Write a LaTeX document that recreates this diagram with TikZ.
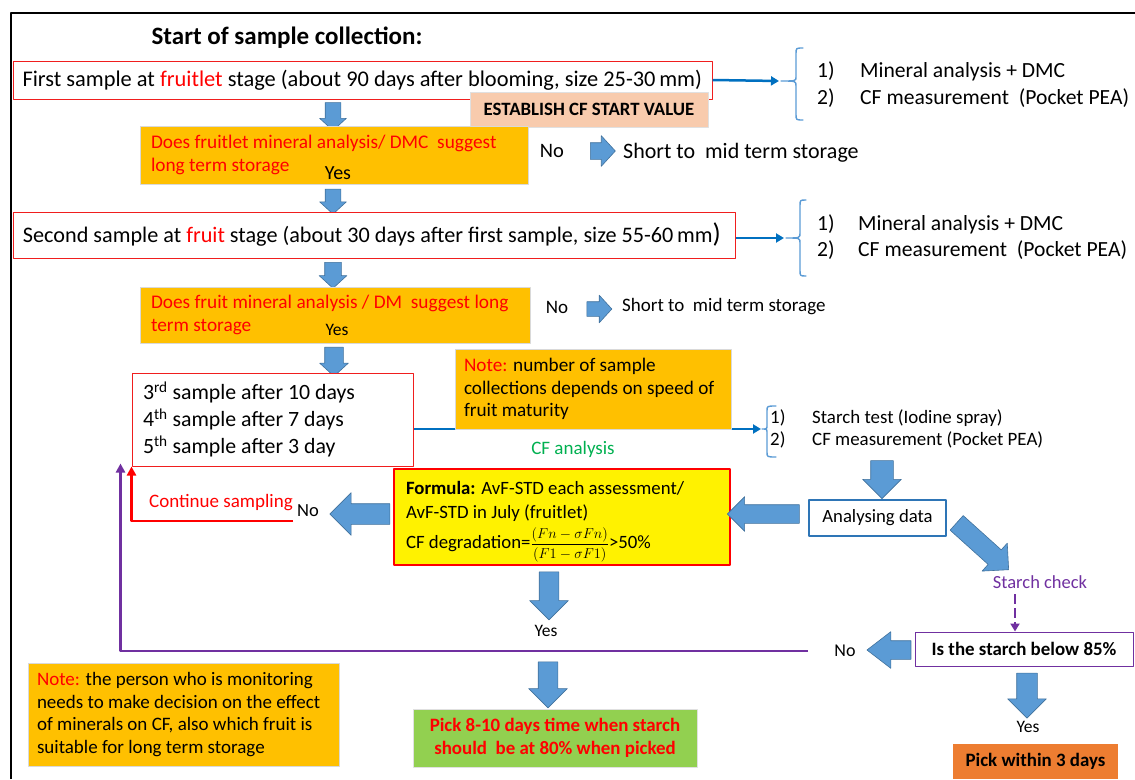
\documentclass[tikz,border=0pt]{standalone}
\usepackage{amsmath}
\usepackage{fontspec}
\setmainfont{Carlito}
\usepackage{tikz}
\usepackage{xcolor}
\usetikzlibrary{arrows.meta,positioning,shapes.arrows}

\definecolor{boxred}{RGB}{240,30,30}
\definecolor{notegold}{RGB}{255,192,0}
\definecolor{peach}{RGB}{248,203,173}
\definecolor{arrowfill}{RGB}{91,155,213}
\definecolor{arrowedge}{RGB}{65,113,156}
\definecolor{lineblue}{RGB}{0,112,192}
\definecolor{braceblue}{RGB}{91,155,213}
\definecolor{cfgreen}{RGB}{0,176,80}
\definecolor{pickgreen}{RGB}{146,208,80}
\definecolor{pickorange}{RGB}{237,125,49}
\definecolor{loopviolet}{RGB}{112,48,160}
\definecolor{databorder}{RGB}{46,117,182}

\newcommand{\fsz}[2]{\fontsize{#1}{#2}\selectfont}

\begin{document}
\begin{tikzpicture}[x=1pt, y=-1pt, >=Latex, line cap=round, line join=round,
  lbl/.style={inner sep=0pt},
  samplebox/.style={draw=boxred, fill=white, line width=1pt, inner ysep=0pt, align=flush left},
  notebox/.style={fill=notegold, draw=black!15, align=flush left, inner ysep=0pt},
  blockarrow/.style={single arrow, fill=arrowfill, draw=arrowedge, line width=0.6pt, inner xsep=0pt},
  bluelink/.style={lineblue, line width=2.5pt, line cap=butt, -{Triangle[length=8pt,width=9pt]}},
  listbrace/.style={braceblue, line width=1.4pt}]

  \useasboundingbox (0,0) rectangle (1135,779);
  \draw[line width=2pt, line cap=butt] (11,779) -- (11,13) -- (1135,13);

  \node[lbl, font=\fsz{25}{28}\bfseries] (title) at (287,38) {Start of sample collection:};

  % first sample
  \node[samplebox, minimum height=38pt, text width=680pt, inner xsep=9.5pt, font=\fsz{22.4}{24}] (first) at (362.5,80)
    {First sample at \textcolor{red}{fruitlet} stage (about 90 days after blooming, size 25-30\,mm)};
  \node[fill=peach, draw=black!12, minimum width=238pt, minimum height=35pt, inner sep=0pt,
    font=\fsz{18.8}{20}\bfseries] (cfstart) at (589,109.5) {ESTABLISH CF START VALUE};
  \coordinate (b1) at (779,81);
  \draw[listbrace] (803,48) .. controls (796,48) .. (796,54) -- (796,77) .. controls (796,81) .. (781,81)
    .. controls (796,81) .. (796,86) -- (796,114) .. controls (796,120) .. (803,120);
  \draw[bluelink] (first.east) -- (b1);
  \node[lbl, anchor=west, font=\fsz{21.6}{24}] (m1) at (817,71) {\makebox[43pt][l]{1)}Mineral analysis + DMC};
  \node[lbl, anchor=west, font=\fsz{21.6}{24}] (c1) at (817,98) {\makebox[43pt][l]{2)}CF measurement\ \ (Pocket PEA)};

  \node[blockarrow, minimum height=28pt, inner ysep=7.5pt, single arrow head extend=5.5pt,
    single arrow tip angle=95, rotate=-90] (d1) at (333,113) {};

  \node[notebox, minimum width=388pt, minimum height=58pt, text width=366pt, inner xsep=11pt,
    font=\fsz{19.3}{22.5}] (q1) at (334,155)
    {\textcolor{red}{Does fruitlet mineral analysis/ DMC\ \ suggest\\ long term storage}};
  \node[lbl, font=\fsz{20}{22}] (yes1) at (338,173) {Yes};
  \node[lbl, font=\fsz{20.5}{22}] (no1) at (552,151) {No};
  \node[blockarrow, minimum height=25pt, inner ysep=8pt, single arrow head extend=7pt,
    single arrow tip angle=95] (r1) at (599,151) {};
  \node[lbl, anchor=west, font=\fsz{22}{24}] (short1) at (623,153) {Short to\ \ mid term storage};

  \node[blockarrow, minimum height=25pt, inner ysep=7.5pt, single arrow head extend=5.5pt,
    single arrow tip angle=95, rotate=-90] (d2) at (333,198) {};

  % second sample
  \node[samplebox, minimum height=46pt, text width=702pt, inner xsep=10pt, font=\fsz{22.2}{24}] (second) at (374,235)
    {Second sample at \textcolor{red}{fruit} stage (about 30 days after first sample, size 55-60\,mm{\fsz{27}{27})}};
  \coordinate (b2) at (784,238);
  \draw[listbrace] (806,200) .. controls (800,200) .. (800,206) -- (800,233) .. controls (800,238) .. (786,238)
    .. controls (800,238) .. (800,243) -- (800,270) .. controls (800,276) .. (806,276);
  \draw[bluelink] (second.east |- b2) -- (b2);
  \node[lbl, anchor=west, font=\fsz{21.6}{24}] (m2) at (817,224) {\makebox[41pt][l]{1)}Mineral analysis + DMC};
  \node[lbl, anchor=west, font=\fsz{21.6}{24}] (c2) at (817,250) {\makebox[41pt][l]{2)}CF measurement\ \ (Pocket PEA)};

  \node[blockarrow, minimum height=26pt, inner ysep=8pt, single arrow head extend=5.5pt,
    single arrow tip angle=95, rotate=-90] (d3) at (333,271.5) {};

  \node[notebox, minimum width=390pt, minimum height=56pt, text width=368pt, inner xsep=11pt,
    font=\fsz{19.3}{23}] (q2) at (335,315)
    {\textcolor{red}{Does fruit mineral analysis / DM\ \ suggest long\\ term storage}};
  \node[lbl, font=\fsz{17.5}{20}] (yes2) at (337,330) {Yes};
  \node[lbl, font=\fsz{19}{21}] (no2) at (557,307) {No};
  \node[blockarrow, minimum height=25pt, inner ysep=7pt, single arrow head extend=6.5pt,
    single arrow tip angle=95] (r2) at (596,309) {};
  \node[lbl, anchor=west, font=\fsz{19}{21}] (short2) at (622,307) {Short to\ \ mid term storage};

  \node[blockarrow, minimum height=29pt, inner ysep=9pt, single arrow head extend=5pt,
    single arrow tip angle=95, rotate=-90] (d4) at (334,357.5) {};

  % later samples
  \node[samplebox, minimum width=281pt, minimum height=93pt, text width=259pt, inner xsep=11pt,
    font=\fsz{21.8}{27}] (later) at (272.5,419.5)
    {3\textsuperscript{rd} sample after 10 days\\ 4\textsuperscript{th} sample after 7 days\\ 5\textsuperscript{th} sample after 3 day};
  \coordinate (b3) at (761,429);
  \draw[bluelink] (later.east |- b3) -- (b3);
  \node[notebox, minimum width=276pt, minimum height=80pt, text width=258pt, inner xsep=9pt,
    font=\fsz{19.2}{22.5}] (note1) at (593,389)
    {\textcolor{red}{Note:} number of sample\\ collections depends on speed of\\ fruit maturity};
  \draw[listbrace] (776,406) .. controls (767,406) .. (767,411) -- (767,425) .. controls (767,429) .. (762,429)
    .. controls (767,429) .. (767,433) -- (767,452) .. controls (767,457) .. (776,457);
  \node[lbl, font=\fsz{19}{21}, text=cfgreen] (cfan) at (573,449) {CF analysis};
  \node[lbl, anchor=west, font=\fsz{18.9}{21}] (s3) at (770,418) {\makebox[42pt][l]{1)}Starch test (Iodine spray)};
  \node[lbl, anchor=west, font=\fsz{18.9}{21}] (c3) at (770,440) {\makebox[42pt][l]{2)}CF measurement (Pocket PEA)};

  \node[blockarrow, minimum height=38pt, inner ysep=11pt, single arrow head extend=8pt,
    rotate=-90] (d5) at (882,474) {};
  \node[draw=databorder, line width=1.2pt, fill=white, minimum width=137pt, minimum height=36pt,
    inner sep=0pt, font=\fsz{18.7}{20}] (data) at (877.5,518) {Analysing data};

  % CF check
  \node[fill=yellow, draw=red, line width=1.2pt, minimum width=336pt, minimum height=96pt,
    text width=312pt, inner xsep=12pt, inner ysep=0pt, align=flush left, font=\fsz{18.8}{24}] (formula) at (562,517)
    {\rule{0pt}{22pt}\textbf{Formula:} AvF-STD each assessment/\\ AvF-STD in July (fruitlet)\\[6pt]
     CF degradation={\fsz{14}{16}$\dfrac{(Fn-\sigma Fn)}{(F1-\sigma F1)}$}>50\%};
  \node[blockarrow, minimum height=72pt, inner ysep=9pt, single arrow head extend=8pt,
    rotate=180] (l1) at (768,514) {};
  \node[blockarrow, minimum height=60pt, inner ysep=10pt, single arrow head extend=11pt,
    rotate=180] (l2) at (365,514) {};
  \node[lbl, font=\fsz{18.5}{20}] (no3) at (308,511) {No};
  \node[lbl, font=\fsz{19}{21}, text=red] (cont) at (221,503) {Continue sampling};
  \coordinate (redstart) at (293,521);
  \draw[red, line width=2.5pt, line cap=butt, -{Triangle[length=9pt,width=9pt]}] (redstart) -| (later.south west);

  \node[blockarrow, minimum height=48pt, inner ysep=9.5pt, single arrow head extend=9.5pt,
    rotate=-90] (d6) at (549,591) {};
  \node[lbl, font=\fsz{17.5}{20}] (yes3) at (546,631) {Yes};

  % starch check
  \node[blockarrow, minimum height=70pt, inner ysep=9.5pt, single arrow head extend=9pt,
    rotate=-42] (diag) at (979,543) {};
  \node[lbl, font=\fsz{18.5}{20}, text=loopviolet] (check) at (1040,582) {Starch check};
  \node[draw=loopviolet, line width=1pt, fill=white, minimum width=218pt, minimum height=34pt,
    inner sep=0pt, font=\fsz{18.9}{20}\bfseries] (starch) at (1024,649) {Is the starch below 85\%};
  \coordinate (dash) at (1015,594);
  \draw[loopviolet, line width=2pt, line cap=butt, dash pattern=on 10pt off 4pt,
    -{Triangle[length=8pt,width=9pt]}] (dash) -- (dash |- starch.north);
  \node[blockarrow, minimum height=44pt, inner ysep=9pt, single arrow head extend=9pt,
    single arrow tip angle=75, rotate=180] (l3) at (895,650) {};
  \node[lbl, font=\fsz{18}{20}] (no4) at (845,651) {No};
  \coordinate (loopstart) at (808,651);
  \draw[loopviolet, line width=2.5pt, line cap=butt, -{Triangle[length=9pt,width=9pt]}]
    (loopstart) -| ([xshift=-11pt, yshift=3pt]later.south west);
  \node[blockarrow, minimum height=45pt, inner ysep=10pt, single arrow head extend=9pt,
    rotate=-90] (d7) at (1027,690.5) {};
  \node[lbl, font=\fsz{17.5}{20}] (yes4) at (1028,727) {Yes};
  \node[fill=pickorange, minimum width=165pt, minimum height=35pt, inner sep=0pt,
    font=\fsz{18.9}{20}\bfseries] (pick3) at (1035.5,761.5) {Pick within 3 days};

  % picking
  \node[blockarrow, minimum height=46pt, inner ysep=9.5pt, single arrow head extend=9.5pt,
    rotate=-90] (d8) at (548,680) {};
  \node[fill=pickgreen, draw=black!12, minimum width=284pt, minimum height=58pt, inner sep=0pt,
    align=center, text=red, font=\fsz{18.9}{22.5}\bfseries] (pick810) at (555,738)
    {Pick 8-10 days time when starch\\ should\ \ be at 80\% when picked};
  \node[notebox, minimum width=311pt, minimum height=103pt, text width=293pt, inner xsep=9pt,
    font=\fsz{19}{22.7}] (note2) at (183.5,714.5)
    {\textcolor{red}{Note:} the person who is monitoring\\ needs to make decision on the effect\\
     of minerals on CF, also which fruit is\\ suitable for long term storage};
\end{tikzpicture}
\end{document}
